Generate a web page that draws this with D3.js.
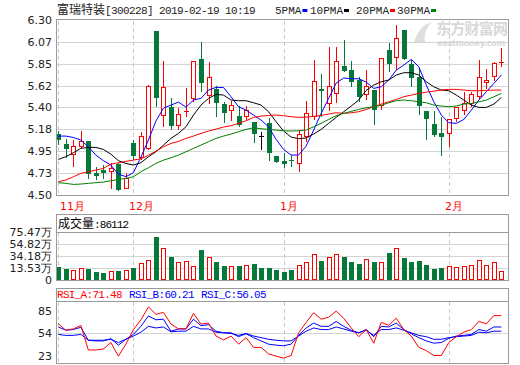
<!DOCTYPE html>
<html>
<head>
<meta charset="utf-8">
<script src="https://cdn.jsdelivr.net/npm/d3@7"></script>
<style>
body { margin: 0; background: #fff; }
svg text { font-family: "DejaVu Sans", Verdana, sans-serif; }
.mono { font-family: "Liberation Mono", "DejaVu Sans Mono", monospace; }
.cjk { font-family: "Noto Sans CJK SC", sans-serif; }
</style>
</head>
<body>
<script>
// daily candles 2018-11-19 .. 2019-02-19
var opens  = [5.126,5.019,4.909,4.988,5.054,4.720,4.755,4.737,4.816,4.562,
              5.037,4.875,4.968,6.193,5.315,5.401,5.212,5.355,5.484,5.897,
              5.518,5.587,5.436,5.367,5.312,5.298,5.253,5.105,5.236,4.899,
              4.848,4.858,4.817,5.099,5.298,5.594,5.436,5.535,5.828,5.787,
              5.683,5.529,5.580,5.415,5.993,5.907,6.203,5.845,5.718,5.363,
              5.229,5.133,5.123,5.277,5.367,5.436,5.511,5.656,5.711,5.862];
var highs  = [5.157,5.074,5.064,5.160,5.054,4.789,4.806,4.823,4.830,4.720,
              5.064,5.150,5.632,6.193,5.879,5.494,5.391,5.597,5.883,6.076,
              5.873,5.621,5.460,5.470,5.415,5.415,5.253,5.150,5.288,4.899,
              4.927,4.909,5.167,5.470,5.890,5.745,6.020,6.020,6.100,5.879,
              5.718,5.787,5.580,5.907,6.063,6.251,6.203,5.890,5.793,5.363,
              5.360,5.298,5.277,5.408,5.563,5.563,5.890,5.793,5.873,6.010];
var lows   = [5.013,4.875,4.789,4.978,4.658,4.651,4.662,4.555,4.541,4.555,
              4.858,4.858,4.961,5.408,5.202,5.167,5.167,5.305,5.460,5.563,
              5.436,5.298,5.236,5.264,5.202,5.271,5.030,4.961,4.851,4.830,
              4.772,4.789,4.737,5.047,5.271,5.298,5.367,5.449,5.769,5.615,
              5.460,5.477,5.219,5.374,5.769,5.787,5.890,5.608,5.322,5.064,
              5.099,4.899,4.995,5.253,5.322,5.401,5.484,5.587,5.676,5.814];
var closes = [5.064,4.968,5.002,5.054,4.713,4.696,4.720,4.772,4.548,4.675,
              4.899,5.109,5.621,5.501,5.608,5.212,5.329,5.360,5.883,5.656,
              5.711,5.449,5.339,5.422,5.219,5.374,5.123,5.105,4.933,4.841,
              4.817,4.855,5.126,5.339,5.673,5.573,5.621,5.879,5.780,5.666,
              5.511,5.625,5.374,5.907,5.845,6.113,5.897,5.708,5.415,5.277,
              5.116,5.099,5.277,5.401,5.449,5.535,5.711,5.683,5.855,5.866];

var ma5  = [5.105,5.105,5.091,5.064,4.995,4.909,4.851,4.806,4.713,4.686,
            4.727,4.888,5.064,5.260,5.394,5.425,5.456,5.404,5.477,5.494,
            5.580,5.607,5.607,5.511,5.408,5.373,5.322,5.270,5.201,5.071,
            4.967,4.909,4.909,5.002,5.167,5.339,5.494,5.652,5.704,5.697,
            5.697,5.662,5.597,5.614,5.683,5.786,5.838,5.896,5.821,5.631,
            5.459,5.322,5.243,5.236,5.277,5.373,5.477,5.563,5.649,5.735];
var ma10 = [4.864,4.892,4.933,4.978,4.988,4.988,4.967,4.919,4.851,4.823,
            4.806,4.830,4.892,4.943,5.012,5.081,5.133,5.201,5.322,5.425,
            5.494,5.535,5.528,5.477,5.470,5.470,5.449,5.425,5.356,5.253,
            5.157,5.095,5.078,5.085,5.126,5.174,5.236,5.298,5.356,5.415,
            5.477,5.576,5.631,5.666,5.683,5.735,5.759,5.759,5.735,5.666,
            5.614,5.580,5.573,5.528,5.477,5.425,5.401,5.401,5.435,5.504];
var ma20 = [4.634,4.651,4.685,4.720,4.737,4.754,4.771,4.815,4.830,4.844,
            4.857,4.871,4.906,4.950,4.995,5.029,5.050,5.081,5.105,5.133,
            5.157,5.177,5.198,5.212,5.236,5.263,5.298,5.311,5.318,5.322,
            5.315,5.305,5.298,5.301,5.308,5.318,5.332,5.346,5.339,5.346,
            5.356,5.380,5.408,5.435,5.459,5.483,5.511,5.528,5.545,5.559,
            5.569,5.580,5.587,5.587,5.580,5.573,5.573,5.576,5.580,5.580];
var ma30 = [4.624,4.617,4.606,4.610,4.617,4.624,4.630,4.644,4.658,4.668,
            4.685,4.737,4.778,4.823,4.857,4.881,4.909,4.943,4.978,5.012,
            5.047,5.081,5.105,5.126,5.150,5.174,5.191,5.181,5.174,5.167,
            5.160,5.157,5.160,5.167,5.201,5.236,5.277,5.315,5.339,5.360,
            5.380,5.397,5.408,5.422,5.449,5.470,5.477,5.470,5.459,5.449,
            5.425,5.415,5.408,5.415,5.435,5.442,5.459,5.477,5.511,5.545];

// volume, 10k shares (万)
var volumes = [15.25,11.81,10.09,12.96,11.81,7.22,5.50,8.37,8.37,10.09,
               13.53,21.57,26.73,66.87,47.37,32.46,23.86,25.01,16.41,44.50,
               31.89,23.86,16.98,16.41,16.98,18.13,20.42,13.53,13.53,10.09,
               6.65,10.09,18.13,23.29,37.05,25.58,31.89,37.05,32.46,23.86,
               20.42,28.45,23.86,23.29,39.34,47.37,30.74,23.86,25.58,18.70,
               11.81,13.53,16.41,14.69,16.41,18.13,26.73,18.13,23.86,8.6112];

var rsiA = [63.44,57.01,58.30,61.83,37.40,37.40,38.37,44.79,31.29,43.19,
            57.66,67.30,80.16,72.77,74.69,63.12,58.30,58.30,73.73,63.12,
            64.09,51.23,47.37,51.23,43.19,49.62,39.97,39.97,33.57,31.29,
            29.36,31.93,54.44,64.73,74.37,67.94,69.87,75.98,68.91,59.26,
            50.58,57.66,44.15,64.73,61.83,68.91,57.66,51.23,39.97,36.76,
            31.93,31.93,44.79,50.58,55.08,57.66,65.69,63.44,71.48,71.48];
var rsiB = [60.23,57.01,57.66,59.91,47.05,46.40,46.40,48.63,42.22,47.99,
            52.83,60.87,71.16,67.30,67.94,56.05,58.30,58.30,67.94,61.51,
            62.48,56.05,54.44,54.44,50.58,53.48,49.62,46.40,43.19,42.22,
            41.58,43.19,51.87,59.26,64.09,60.87,60.87,65.69,60.87,57.01,
            54.44,57.66,50.58,60.87,60.23,64.09,57.66,53.48,49.62,46.40,
            44.15,44.79,48.97,51.23,51.87,52.83,57.66,56.05,60.23,60.21];
var rsiC = [52.83,51.87,51.87,52.83,47.05,47.05,47.05,48.01,44.79,48.01,
            51.23,55.08,60.87,59.26,60.23,55.40,56.05,56.05,60.87,58.30,
            58.30,55.08,54.44,53.80,51.87,53.80,51.23,49.62,48.01,47.05,
            46.40,46.40,51.23,56.05,59.26,57.66,57.66,60.23,58.30,56.05,
            54.44,57.01,51.87,57.66,57.66,59.26,57.01,54.44,51.87,50.58,
            48.01,48.01,49.62,50.58,51.23,51.87,55.08,54.44,56.05,56.05];

var monthIdx    = [0, 10, 30, 52];
var monthLabels = ["11月", "12月", "1月", "2月"];

var priceTicks  = [4.50, 4.725, 4.95, 5.175, 5.40, 5.625, 5.85, 6.075, 6.30];
var priceLabels = ["4.50","4.73","4.95","5.18","5.40","5.62","5.85","6.07","6.30"];
var volFloor    = -7.11;
var volTicks    = [volFloor, 13.53, 34.18, 54.82, 75.47];
var volLabels   = ["0", "13.53万", "34.18万", "54.82万", "75.47万"];
var rsiTicks    = [85, 54, 23];

var maNames  = ["5PMA", "10PMA", "20PMA", "30PMA"];
var maColors = ["#0000ff", "#000000", "#ff0000", "#008000"];

var RED = "#ff0000", GREEN = "#05783a", GRID = "#d4d4d4", BORDER = "#9a9a9a";

var W = 520, H = 365, L = 56, R = 508;

var svg = d3.select("body").append("svg").attr("width", W).attr("height", H);

var x = d3.scaleLinear().domain([0, closes.length - 1]).range([58.3, 501.4]);
var y = d3.scaleLinear().domain([4.5, 6.3]).range([194.7, 20.3]);
var yVol = d3.scaleLinear().domain([volFloor, 75.47]).range([280, 232]);
var yRsi = d3.scaleLinear().domain([23, 85]).range([364.5, 302]);

function cxOf(i){ return Math.round(x(i)); }

// ---------- grid + month lines
function hGrid(vals, sc){
	svg.append("g").selectAll("line").data(vals).join("line")
		.attr("x1", L).attr("x2", R)
		.attr("y1", d => Math.round(sc(d)) + 0.5).attr("y2", d => Math.round(sc(d)) + 0.5)
		.attr("stroke", GRID).attr("shape-rendering", "crispEdges");
}
function monthLines(y1, y2){
	svg.append("g").selectAll("line").data(monthIdx).join("line")
		.attr("x1", d => cxOf(d) + 0.5).attr("x2", d => cxOf(d) + 0.5)
		.attr("y1", y1).attr("y2", y2)
		.attr("stroke", "#c8c8c8").attr("stroke-dasharray", "4,3")
		.attr("shape-rendering", "crispEdges");
}
hGrid(priceTicks.slice(1, -1), y);
hGrid(volTicks.slice(1, -1), yVol);
hGrid([54], yRsi);
monthLines(21, 195);
monthLines(233, 280);
monthLines(302, 363);

// ---------- price axis labels
svg.append("g").selectAll("text").data(priceTicks).join("text")
	.attr("x", 52).attr("y", d => y(d)).attr("dy", "0.36em")
	.attr("text-anchor", "end").attr("font-size", 11).attr("fill", "#222")
	.text((d, i) => priceLabels[i]);

svg.append("g").selectAll("text").data(monthIdx).join("text")
	.attr("x", d => Math.max(60, cxOf(d) - 4)).attr("y", 210)
	.attr("font-size", 11).attr("fill", RED)
	.text((d, i) => monthLabels[i]);

// ---------- watermark
svg.append("text").attr("class", "cjk").attr("x", 436).attr("y", 34)
	.attr("font-size", 15).attr("font-weight", "bold").attr("fill", "#d8d8d8")
	.attr("textLength", 72).text("东方财富网");
svg.append("text").attr("x", 437).attr("y", 46).attr("font-size", 8)
	.attr("font-weight", "bold").attr("fill", "#d8d8d8")
	.attr("textLength", 68).text("eastmoney.com");
svg.append("path").attr("d", "M414,42 C418,30 424,24 432,22 C426,28 424,34 425,42 Z")
	.attr("fill", "#dedede");

// ---------- candles
var main = svg.append("g");
var candles = closes.map((c, i) => ({i: i, o: opens[i], h: highs[i], l: lows[i], c: c}));

main.selectAll("g").data(candles).join("g")
	.attr("shape-rendering", "crispEdges")
	.each(function(d){
		var g = d3.select(this), cx = cxOf(d.i);
		var top = Math.round(y(Math.max(d.o, d.c))), bot = Math.round(y(Math.min(d.o, d.c)));
		var yh = Math.round(y(d.h)), yl = Math.round(y(d.l));
		if (d.c > d.o) {
			if (yh < top) g.append("line").attr("x1", cx + .5).attr("x2", cx + .5).attr("y1", yh).attr("y2", top).attr("stroke", RED);
			if (yl > bot) g.append("line").attr("x1", cx + .5).attr("x2", cx + .5).attr("y1", bot).attr("y2", yl).attr("stroke", RED);
			if (bot - top < 2) {
				g.append("line").attr("x1", cx - 2).attr("x2", cx + 3).attr("y1", top + .5).attr("y2", top + .5).attr("stroke", RED);
			} else {
				g.append("rect").attr("x", cx - 1.5).attr("y", top + .5).attr("width", 4).attr("height", bot - top - 1)
					.attr("fill", "#fff").attr("stroke", RED);
			}
		} else if (d.c < d.o) {
			g.append("line").attr("x1", cx + .5).attr("x2", cx + .5).attr("y1", yh).attr("y2", yl).attr("stroke", GREEN);
			g.append("rect").attr("x", cx - 2).attr("y", top).attr("width", 5).attr("height", Math.max(1, bot - top))
				.attr("fill", GREEN);
		} else {
			g.append("line").attr("x1", cx + .5).attr("x2", cx + .5).attr("y1", yh).attr("y2", yl).attr("stroke", "#000");
			g.append("line").attr("x1", cx - 2).attr("x2", cx + 3).attr("y1", top + .5).attr("y2", top + .5).attr("stroke", "#000");
		}
	});

// ---------- moving averages
var maLine = d3.line().x((d, i) => x(i)).y(d => y(d));
[ma5, ma10, ma20, ma30].forEach(function(s, k){
	main.append("path").attr("d", maLine(s)).attr("fill", "none")
		.attr("stroke", maColors[k]).attr("stroke-width", 1);
});

// ---------- volume
svg.append("g").attr("shape-rendering", "crispEdges")
	.selectAll("rect").data(volumes).join("rect")
	.each(function(v, i){
		var up = closes[i] > opens[i], cx = cxOf(i), yt = Math.round(yVol(v));
		var r = d3.select(this);
		if (up) r.attr("x", cx - 1.5).attr("y", yt + .5).attr("width", 4).attr("height", 280 - yt - 1)
			.attr("fill", "#fff").attr("stroke", RED);
		else r.attr("x", cx - 2).attr("y", yt).attr("width", 5).attr("height", 280 - yt).attr("fill", GREEN);
	});

svg.append("g").selectAll("text").data(volTicks).join("text")
	.attr("x", 52).attr("y", d => yVol(d)).attr("dy", "0.36em")
	.attr("text-anchor", "end").attr("font-size", 11).attr("fill", "#222")
	.text((d, i) => volLabels[i]);

// ---------- RSI
var rsiLine = d3.line().x((d, i) => x(i)).y(d => yRsi(d));
[[rsiC, "#0000ff"], [rsiB, "#0000ff"], [rsiA, RED]].forEach(function(p){
	svg.append("path").attr("d", rsiLine(p[0])).attr("fill", "none").attr("stroke", p[1]);
});
svg.append("g").selectAll("text").data(rsiTicks).join("text")
	.attr("x", 52).attr("y", (d, i) => yRsi(d) + [9, 0, -8.5][i]).attr("dy", "0.36em")
	.attr("text-anchor", "end").attr("font-size", 11).attr("fill", "#222")
	.text(d => d);

// ---------- frames
function frame(y1, y2, yHead){
	var g = svg.append("g").attr("fill", "none").attr("stroke", BORDER).attr("shape-rendering", "crispEdges");
	g.append("rect").attr("x", L + .5).attr("y", y1 + .5).attr("width", R - L).attr("height", y2 - y1);
	if (yHead) g.append("line").attr("x1", L).attr("x2", R).attr("y1", yHead + .5).attr("y2", yHead + .5);
}
frame(19, 195);
frame(214, 280, 232);
frame(288, 363, 301);

// ---------- titles
var t = svg.append("text").attr("x", 57).attr("y", 14).attr("fill", "#222");
t.append("tspan").attr("class", "cjk").attr("font-size", 12).text("富瑞特装");
t.append("tspan").attr("class", "mono").attr("font-size", 11).attr("letter-spacing", -0.6)
	.text("[300228] 2019-02-19 10:19");

var lg = svg.append("g");
var lx = [275, 310, 356, 397];
maNames.forEach(function(n, k){
	lg.append("text").attr("class", "mono").attr("x", lx[k]).attr("y", 13.5)
		.attr("font-size", 11).attr("fill", "#222").text(n);
	lg.append("rect").attr("x", lx[k] + n.length * 6.6 + 1).attr("y", 9).attr("width", 5).attr("height", 3)
		.attr("fill", maColors[k]);
});

var vt = svg.append("text").attr("x", 58).attr("y", 227.5).attr("fill", "#000");
vt.append("tspan").attr("class", "cjk").attr("font-size", 12).text("成交量");
vt.append("tspan").attr("class", "mono").attr("font-size", 11).attr("letter-spacing", -0.9)
	.text(":" + Math.round(volumes[volumes.length - 1] * 10000));

var rsiHead = [["RSI_A", rsiA, RED, 57], ["RSI_B", rsiB, "#0000ff", 129], ["RSI_C", rsiC, "#0000ff", 201]];
rsiHead.forEach(function(r){
	svg.append("text").attr("class", "mono").attr("x", r[3]).attr("y", 298)
		.attr("font-size", 11).attr("letter-spacing", -0.7).attr("fill", r[2])
		.text(r[0] + ":" + r[1][r[1].length - 1].toFixed(2));
});
</script>
</body>
</html>
